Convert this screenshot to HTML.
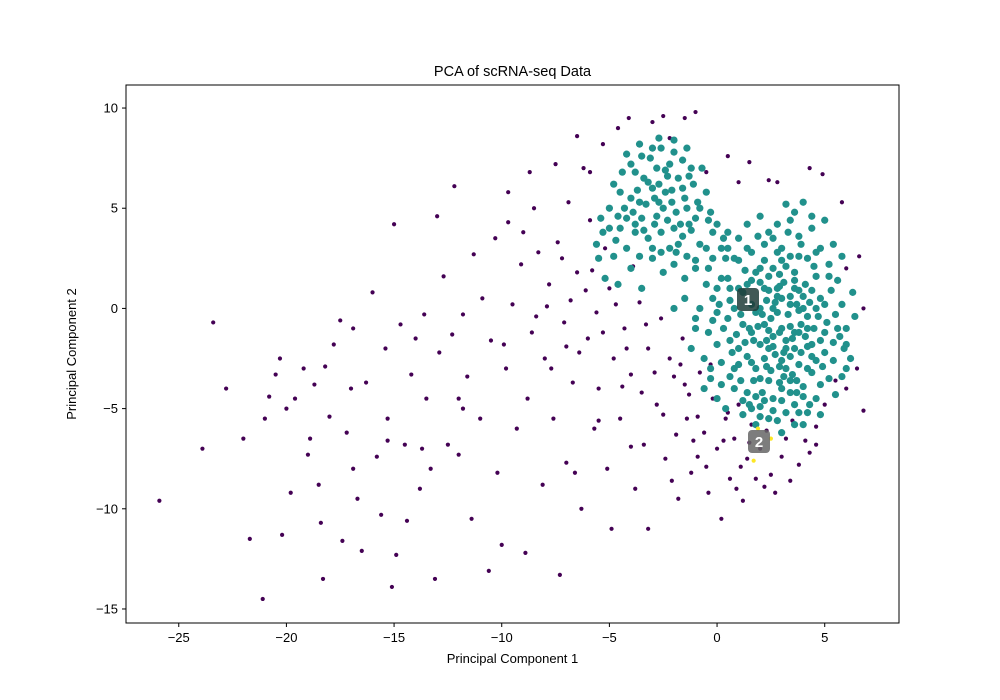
<!DOCTYPE html>
<html><head><meta charset="utf-8"><style>
body{margin:0;background:#fff;}
svg{display:block;font-family:"Liberation Sans",sans-serif;}
</style></head><body>
<svg id="chart" width="1000" height="700">
<rect x="0" y="0" width="1000" height="700" fill="#fff"/>
<text x="512.5" y="76" font-size="14.5" text-anchor="middle">PCA of scRNA-seq Data</text>
<g id="points"></g>
<g id="ticks"></g>
<rect x="126" y="85" width="773" height="538" fill="none" stroke="#000" stroke-width="1"/>
<text x="512.5" y="663" font-size="13" text-anchor="middle">Principal Component 1</text>
<text x="76" y="354" font-size="13" text-anchor="middle" transform="rotate(-90 76 354)">Principal Component 2</text>
<g><rect x="737" y="288" width="22" height="23" rx="4" fill="#1e3c38" opacity="0.85"/><text x="748" y="305" font-size="15" font-weight="bold" fill="#fff" text-anchor="middle">1</text></g>
<g><rect x="748" y="430" width="22" height="23" rx="4" fill="#666" opacity="0.85"/><text x="759" y="447" font-size="15" font-weight="bold" fill="#fff" text-anchor="middle">2</text></g>
</svg>
<script>
const xTicks=[-25,-20,-15,-10,-5,0,5];
const yTicks=[-15,-10,-5,0,5,10];
const yellowPts=[[1.7,-7.6],[2.5,-6.5],[1.9,-6.0]];
const tealPts=[[3,-1],[2.5,-0.5],[3.5,-1.5],[2,0],[4,0],[2.8,1],[3.2,-2],[1.5,-1],[4.5,-1],[3,0.5],[2.2,-2.5],[3.8,-2.8],[1.2,0.8],[4.8,0.5],[2.6,2],[3.6,1.8],[1,-2],[5,-2.2],[2,-3.5],[3.4,-3.6],[4.4,-3.2],[0.5,-0.5],[5.5,-0.3],[1.8,1.8],[4.2,2.5],[3,3],[2.2,3.2],[3.8,3.6],[0.8,-3],[5.2,-3.5],[2.6,-4.5],[3.6,-4.8],[1.4,-4.2],[4.6,-4.5],[0,-1.8],[6,-1],[0.2,1.5],[5.6,1.4],[1.6,2.8],[4.8,3],[2.4,-5.5],[3.2,-5.2],[-0.3,-3.5],[6,-3],[1.2,-5.3],[4,-5.8],[2.8,4.2],[3.6,4.8],[1,3.5],[4.4,4],[2.9,-1.2],[3.3,-0.3],[2.3,-1.6],[3.9,-0.8],[2.7,0.3],[1.9,-0.9],[4.2,-1.9],[3.1,1.3],[2.4,0.9],[3.7,0.2],[1.6,-2.7],[2.9,-2.9],[4.7,-0.4],[1.1,-0.3],[5.3,0.9],[0.6,0.4],[2,1.3],[3.5,-3.3],[4.1,1.2],[0.9,-1.3],[5.8,0.2],[5.9,-2],[-0.6,-2.5],[-0.2,0.5],[0.4,2.5],[1.4,4.2],[2,4.6],[3.2,5.2],[4,5.3],[5,4.4],[5.2,2.2],[5.5,-4.3],[4.8,-5.3],[0,-4.5],[0.4,-5],[1.8,-5.8],[3,-6.2],[-1,-1],[-1.5,0.5],[-1,2],[-0.5,3],[0.5,3.8],[6.3,0.8],[6.2,-2.5],[3.6,-1.2],[2.1,-0.3],[4.4,0.9],[1.3,1.9],[2.5,-3.1],[4,-3.9],[3.4,2.6],[1.7,-3.6],[0.2,-2.7],[5,-1.2],[2.2,2.4],[3.9,3.2],[2.6,-1.9],[3.4,-2.4],[4.6,-2.6],[1.3,-1.7],[2.1,-4.2],[3,-4],[4.3,-4.8],[1.6,0.2],[2.3,0.4],[3.6,1],[4.6,1.6],[3.2,2.1],[2.8,-0.2],[3.8,-0.1],[4.1,-1.4],[2.4,-1.1],[1.7,-1.6],[3.1,-3.4],[3.9,-2.2],[2.7,-2.3],[0.7,-2.2],[0.3,-1],[5.1,-0.7],[5.4,-1.7],[4.9,-2.9],[1.1,-3.6],[2,-4.9],[3.8,-5.2],[4.5,2.1],[1.9,3.6],[2.6,3.5],[3.3,3.8],[1,2.4],[0.1,0.2],[-0.4,-1.2],[5.7,-1.4],[1.4,1.2],[2.9,1.7],[4.3,0.3],[3.4,0.6],[2.2,-0.8],[2.9,-3.7],[3.7,-4.2],[1.5,-4.8],[2.6,-5.1],
[1.2,-0.8],[1.8,-0.2],[2.4,-2],[3,-2.6],[3.6,-2],[4.2,-1],[4.8,-1.6],[4.4,-2.4],[3.8,-1.2],[3.2,-1.6],[2.6,-1.4],[2,-1.8],[1.4,-2.4],[2.2,1],[2.8,0.6],[3.4,0.2],[4,0.6],[4.6,0],[5,0.2],[3.6,1.4],[3,2.4],[2.4,1.6],[1.6,1.4],[0.8,0],[0.6,-1.6],[1,-2.8],[1.8,-3],[2.4,-3.6],[3.2,-3],[4.2,-3],[4.8,-3.8],[4,-4.4],[3,-4.6],[2.2,-4.6],[1.8,-4.4],[0.8,-4],[5.4,-2.6],[5.6,-1],[5.2,1.6],[4.6,2.8],[3.8,2.6],[2.8,2.8],[2,2],[1.4,3],[0.6,1],[-0.2,-0.6],[0.2,-3.8],[-0.6,-4],[3.4,-4.2],[2.8,-5.6],[3.6,-5.8],[4.2,-5.2],[1.6,-5],[2,-5.4],[4.4,4.6],[3.4,4.4],[2.4,3.8],[5.4,3.2],[5.8,2.6],[6,-1.8],[6.4,-0.4],[5.8,-3.4],[1.2,-4.6],[0.6,-3.4],[-0.8,0],[-0.4,2],[0,1],[0.2,3],[1.6,-1.2],[2.6,0],[3.4,-0.9],[4.2,-0.4],[3.8,0.9],[2.9,1.1],[3.1,-2.2],[2.3,-2.9],[4.4,-1.8],[3.7,-3.6],
[-2.5,5],[-3,6],[-2,4],[-3.5,4.5],[-1.5,5.5],[-4,5.5],[-2.8,7],[-1.8,6.5],[-3.2,3.5],[-4.5,4],[-1,4.5],[-2.2,3],[-3.8,6.8],[-1.2,7],[-5,5],[-0.5,5.8],[-4.2,3],[-2.6,8],[-3.5,7.6],[-1.6,3.6],[-0.8,3.2],[-5.3,3.8],[-4.8,6.2],[-2,7.8],[-3,2.5],[-1.4,2.6],[0,4.2],[-0.2,2.5],[-5.5,2.5],[-4,2],[-2.4,5.8],[-3.3,5.2],[-1.9,4.8],[-2.9,4.2],[-3.9,4.8],[-1.1,6.2],[-4.4,6.8],[-3.6,8.2],[-2.3,6.6],[0.3,3.5],[0.5,1.5],[-0.5,1.2],[-1.5,1.5],[-2.5,1.8],[-3.5,1],[-4.6,1.2],[-5.2,1.5],[-0.7,7],[-1.4,8],[-2.7,8.5],[-4.2,7.7],[-5.4,4.5],[-3,3],[-2,2.2],[0.8,2.5],[1,1],[-1,-0.5],[-2,0],[0,-0.2],[-1.2,-2],[-0.3,-3],[-2.1,5.3],[-2.9,5.5],[-3.7,5.9],[-1.7,4.2],[-2.6,3.8],[-3.4,6.5],[-1.4,5],[-4.3,5],[-2.2,7.2],[-3.1,7.5],[-0.9,5.3],[-0.3,4.8],[-4.7,3.4],[-3.8,3.8],[-1.9,2.8],[-2.7,6.2],[-1.2,3.9],
[-3.2,6.3],[-2.4,6.9],[-1.6,6],[-2.8,4.6],[-3.6,5.3],[-4.5,5.8],[-4.2,4.5],[-2.3,4.4],[-1.3,4.2],[-0.8,5],[-0.2,3.8],[-1.8,3.2],[-2.6,2.8],[-3.6,2.6],[-4.8,2.6],[-5,4],[-3,8],[-2,8.4],[-1.6,7.4],[-4,7.2],[-4.6,4.6],[-0.4,4.4],[0.5,3],[-1,2.4],[-5.6,3.2],[-3.4,3.9],[-2.1,5.9],[-3.8,4.2],[-2.7,5.3],[-1.3,6.6]];
const purplePts=[[-25.9,-9.6],[-23.9,-7],[-23.4,-0.7],[-22.8,-4],[-22,-6.5],[-21.7,-11.5],[-21.1,-14.5],[-21,-5.5],[-20.5,-3.3],[-20.3,-2.5],[-20.2,-11.3],[-20,-5],[-19.8,-9.2],[-19.6,-4.5],[-19.2,-3],[-18.9,-6.5],[-18.7,-3.8],[-18.5,-8.8],[-18.4,-10.7],[-18.3,-13.5],[-18.2,-2.9],[-18,-5.4],[-17.8,-1.8],[-17.5,-0.6],[-17.4,-11.6],[-17.2,-6.2],[-17,-4],[-16.9,-1],[-16.7,-9.5],[-16.5,-12.1],[-16.3,-3.7],[-16,0.8],[-15.8,-7.4],[-15.6,-10.3],[-15.4,-2],[-15.3,-5.5],[-15.1,-13.9],[-15,4.2],[-14.9,-12.3],[-14.7,-0.8],[-14.5,-6.8],[-14.4,-10.6],[-14.2,-3.3],[-14,-1.5],[-13.8,-9],[-13.6,-0.3],[-13.5,-4.5],[-13.3,-8],[-13.1,-13.5],[-13,4.6],[-12.9,-2.2],[-12.7,1.6],[-12.5,-6.8],[-12.3,-1.3],[-12.2,6.1],[-12,-7.3],[-11.8,-0.3],[-11.6,-3.4],[-11.4,-10.5],[-11.3,2.7],[-11,-5.5],[-10.9,0.5],[-10.6,-13.1],[-10.5,-1.6],[-10.3,3.5],[-10.2,-8.2],[-10,-11.8],[-9.8,-3],[-9.7,4.3],[-9.5,0.2],[-9.3,-6],[-9.1,2.2],[-8.9,-12.2],[-8.8,-4.5],[-8.6,-1.2],[-8.5,5],[-8.3,2.8],[-8.1,-8.8],[-8,-2.5],[-7.8,1.2],[-7.6,-5.5],[-7.4,3.3],[-7.3,-13.3],[-7.1,-0.7],[-7,-7.7],[-6.9,5.3],[-6.7,-3.7],[-6.5,1.8],[-6.3,-10],[-6.2,7],[-6,-1.5],[-5.9,4.4],[-5.7,-6],[-5.6,-0.2],[-5.5,-4],[-5.3,8.2],[-5.1,-8],[-5,1],[-4.8,-2.5],[-4.6,9],[-4.5,-5.5],[-4.3,-1],[-4.1,9.5],[-4,-3.3],[-3.8,-9],[-3.6,0.3],[-3.4,-6.8],[-3.2,-2],[-3,9.3],[-2.8,-4.8],[-2.6,-0.5],[-2.4,-7.5],[-2.2,8.5],[-2,-3.4],[-1.8,-9.5],[-1.6,-1.5],[-1.4,-5.5],[-1.2,-8.2],[-1,9.8],[-0.8,-3.2],[-0.6,-6.2],[-0.4,-9.2],[-0.2,-4.5],[0,-7],[0.2,-10.5],[0.4,-5.5],[0.6,-8.5],[0.8,-6.5],[1,-4.8],[1.2,-9.6],[1.4,-7.5],[1.6,-5.8],[1.8,-8.5],[2,-7],[2.3,-6.1],[2.5,-8.3],[2.7,-9.2],[3,-7.4],[3.2,-6.5],[3.5,-5.6],[3.8,-7.8],[4.1,-6.6],[4.3,-7.2],[4.6,-5.9],[5,-4.8],[5.5,-3.6],[6,-4],[6.5,-3],[6.8,-5.1],[6.8,0],[6.6,2.6],[6,2],[5.8,5.3],[4.9,6.7],[4.3,7],[2.8,6.3],[2.4,6.4],[1.5,7.3],[1,6.3],[0.5,7.6],[-0.5,6.8],[-1.5,9.5],[-2.5,9.6],[-6.5,8.6],[-5.9,6.8],[-7.5,7.2],[-8.7,6.8],[-9.7,5.8],[-6.6,-8.2],[-5.5,-5.6],[-4.9,-11],[-3.2,-11],[-1.3,-4.3],[-0.3,-2.8],[-1.1,-6.6],[0.5,-5.2],[-2.5,-5.3],[-4,-6.9],[-9.9,-1.8],[-11.8,-5],[-13.7,-7],[-15.3,-6.6],[-16.9,-8],[-19,-7.3],[-20.8,-4.4],[-12,-4.5],[-7.2,2.5],[-6.4,-2.2],[-5.2,3],[-4.4,-3.9],[-3.5,-4.2],[-2.2,-2.5],[-1.9,-6.3],[-0.9,-7.4],[0.3,-6.6],[1.1,-7.9],[-8.4,-0.4],[-9,3.8],[-7.7,-3],[-6.8,0.4],[-5.8,1.9],[-3.9,2.1],[-4.7,0.2],[-1.7,-2.8],[-0.9,-5.4],[-2.9,-3.2],[-3.3,-0.8],[-4.2,-2],[-5.3,-1.2],[-6.1,0.9],[-7,-1.9],[-7.9,0.1],[-0.5,-7.9],[0.9,-9],[1.5,-6.7],[2.2,-8.9],[3.4,-8.6],[4.6,-6.8],[-2.1,-8.6],[-1.5,-3.8]];

const X0=126,X1=899,Y0=85,Y1=623;
const xMin=-27.45,xMax=8.45,yMin=-15.7,yMax=11.15;
function sx(v){return X0+(v-xMin)/(xMax-xMin)*(X1-X0);}
function sy(v){return Y1-(v-yMin)/(yMax-yMin)*(Y1-Y0);}
const NS='http://www.w3.org/2000/svg';
const g=document.getElementById('points');
function draw(arr,color,r,name){
  arr.forEach(function(p){
    const c=document.createElementNS(NS,'circle');
    c.setAttribute('cx',sx(p[0]));c.setAttribute('cy',sy(p[1]));
    c.setAttribute('r',r);c.setAttribute('fill',color);
    
    
    g.appendChild(c);
  });
}
draw(purplePts,'#440154',2.1,'point-cluster-0');
draw(tealPts,'#21918c',3.6,'point-cluster-1');
draw(yellowPts,'#fde725',2.1,'point-cluster-2');
const t=document.getElementById('ticks');
function fmt(v){return v<0?'\u2212'+Math.abs(v):String(v);}
xTicks.forEach(function(v){
  const l=document.createElementNS(NS,'line');
  l.setAttribute('x1',sx(v));l.setAttribute('x2',sx(v));l.setAttribute('y1',Y1);l.setAttribute('y2',Y1+4);
  l.setAttribute('stroke','#000');
  
  
  t.appendChild(l);
  const tx=document.createElementNS(NS,'text');
  tx.setAttribute('x',sx(v));tx.setAttribute('y',Y1+19);tx.setAttribute('font-size','13');tx.setAttribute('text-anchor','middle');
  tx.textContent=fmt(v);
  
  
  t.appendChild(tx);
});
yTicks.forEach(function(v){
  const l=document.createElementNS(NS,'line');
  l.setAttribute('x1',X0-4);l.setAttribute('x2',X0);l.setAttribute('y1',sy(v));l.setAttribute('y2',sy(v));
  l.setAttribute('stroke','#000');
  
  
  t.appendChild(l);
  const tx=document.createElementNS(NS,'text');
  tx.setAttribute('x',X0-8);tx.setAttribute('y',sy(v)+4.5);tx.setAttribute('font-size','13');tx.setAttribute('text-anchor','end');
  tx.textContent=fmt(v);
  
  
  t.appendChild(tx);
});
</script>
</body></html>
